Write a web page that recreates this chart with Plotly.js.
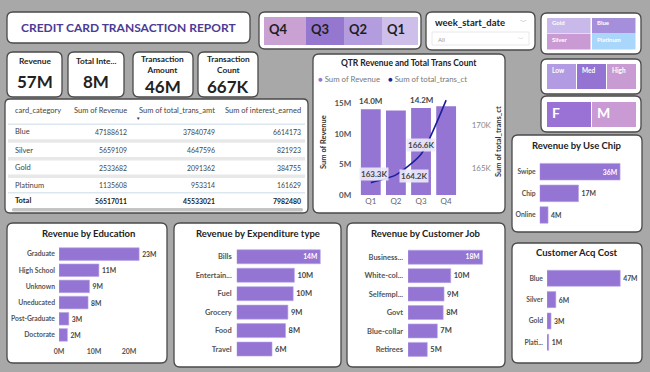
<!DOCTYPE html>
<html><head><meta charset="utf-8">
<script src="https://cdn.plot.ly/plotly-3.0.1.min.js"></script>
<style>html,body{margin:0;padding:0;background:#a8a8a8;}#chart{width:650px;height:372px;}</style>
</head><body><div id="chart"></div>
<script>
// ---------- DATA ----------
const quarters = ['Q1','Q2','Q3','Q4'];
const qtrRevenueM = [14.0, 13.8, 14.2, 14.5];
const qtrTransCtK = [163.3, 164.2, 166.6, 172.9];
const qtrBarLabelIdx = [0, 2];
const qtrLineLabelIdx = [0, 1, 2];
const revTickVals = [0, 5, 10, 15];
const revTickText = ['0M', '5M', '10M', '15M'];
const ctTickVals = [165, 170];
const ctTickText = ['165K', '170K'];

const eduCats = ['Graduate','High School','Unknown','Uneducated','Post-Graduate','Doctorate'];
const eduRevenueM = [22.9, 11.4, 8.7, 8.3, 2.8, 2.4];
const eduTickVals = [0, 10, 20];
const eduTickText = ['0M', '10M', '20M'];

const expCats = ['Bills','Entertain...','Fuel','Grocery','Food','Travel'];
const expRevenueM = [14.2, 9.8, 9.6, 8.7, 8.3, 6.0];

const jobCats = ['Business...','White-col...','Selfempl...','Govt','Blue-collar','Retirees'];
const jobRevenueM = [17.8, 10.2, 8.6, 8.4, 7.0, 4.6];

const chipCats = ['Swipe','Chip','Online'];
const chipRevenueM = [35.6, 17.2, 3.7];

const acqCats = ['Blue','Silver','Gold','Plati...'];
const acqCostM = [47.2, 5.7, 2.6, 1.1];

const tableHeaders = ['card_category','Sum of Revenue','Sum of total_trans_amt','Sum of interest_earned'];
const cardCategories = ['Blue','Silver','Gold','Platinum'];
const sumRevenue = [47188612, 5659109, 2533682, 1135608];
const sumTransAmt = [37840749, 4647596, 2091362, 953314];
const sumInterest = [6614173, 821923, 384755, 161629];

const kpiLabels = ['Revenue','Total Inte...','Transaction<br>Amount','Transaction<br>Count'];
const kpiValues = ['57M','8M','46M','667K'];

const reportTitle = 'CREDIT CARD TRANSACTION REPORT';
const quarterTiles = ['Q4','Q3','Q2','Q1'];
const cardTiles = ['Gold','Blue','Silver','Platinum'];
const levelTiles = ['Low','Med','High'];
const genderTiles = ['F','M'];

// ---------- HELPERS ----------
const W = 650, H = 372;
const px = x => x / W, py = y => 1 - y / H;
const F = 'Lato, "Open Sans", sans-serif';
const BAR = '#9575d4';
const shapes = [], ann = [];

function rr(x0, y0, x1, y1, r, fill, line, lw) {
  const p = `M${px(x0+r)},${py(y0)} L${px(x1-r)},${py(y0)} Q${px(x1)},${py(y0)} ${px(x1)},${py(y0+r)} ` +
            `L${px(x1)},${py(y1-r)} Q${px(x1)},${py(y1)} ${px(x1-r)},${py(y1)} L${px(x0+r)},${py(y1)} ` +
            `Q${px(x0)},${py(y1)} ${px(x0)},${py(y1-r)} L${px(x0)},${py(y0+r)} Q${px(x0)},${py(y0)} ${px(x0+r)},${py(y0)} Z`;
  shapes.push({type:'path', xref:'paper', yref:'paper', path:p, fillcolor:fill,
               line:{color:line, width:lw}, layer:'below'});
}
function rect(x0, y0, x1, y1, fill, lineColor, lw) {
  shapes.push({type:'rect', xref:'paper', yref:'paper', x0:px(x0), x1:px(x1), y0:py(y1), y1:py(y0),
               fillcolor:fill, line:{color:lineColor || fill, width:lw || 0}, layer:'below'});
}
function T(text, x, y, size, color, o) {
  o = o || {};
  ann.push({xref:'paper', yref:'paper', x:px(x), y:py(y), text:text, showarrow:false,
            xanchor:o.xa || 'center', yanchor:o.ya || 'middle', textangle:o.angle || 0,
            font:{family:F, size:size, color:color, weight:o.bold ? 700 : 400}, align:o.align || 'center'});
}
const PANEL_LINE = '#4a4a4a';

// ---------- PANELS ----------
rr(7, 12, 250, 43, 6, '#ffffff', PANEL_LINE, 1.3);
T(reportTitle, 128.5, 27.5, 12, '#4b3b94', {bold:true});
const kpiBoxes = [[7,52,62,97],[68,52,124,97],[133,52,193,97],[198,52,258,97]];
kpiBoxes.forEach((b, i) => {
  rr(b[0], b[1], b[2], b[3], 6, '#ffffff', PANEL_LINE, 1.3);
  const cx = (b[0] + b[2]) / 2;
  const two = kpiLabels[i].indexOf('<br>') >= 0;
  T(kpiLabels[i], cx, two ? 64 : 61, 8.3, '#252525', {bold:true});
  T(kpiValues[i], cx, two ? 86.5 : 81, 17, '#222222', {bold:true});
});

rr(259, 12, 421, 49, 6, '#ffffff', PANEL_LINE, 1.3);
const qColors = ['#c9a1d2', '#9677cf', '#b39ddf', '#cdbfe9'];
const qX = [[264,306],[306,344],[344,382],[382,418]];
quarterTiles.forEach((q, i) => {
  rect(qX[i][0], 17, qX[i][1], 45, qColors[i]);
  T(q, qX[i][0] + 3, 29, 13, '#1e1e1e', {bold:true, xa:'left'});
});

rr(426, 12, 535, 50, 6, '#ffffff', PANEL_LINE, 1.3);
T('week_start_date', 433, 23, 9.5, '#222', {bold:true, xa:'left'});
T('﹀', 523, 21, 7, '#777');
rect(432, 32, 529, 45, '#ffffff', '#e2e2e2', 0.8);
T('All', 436, 39, 6, '#999', {xa:'left'});
T('﹀', 521, 38, 6, '#999');

rr(541, 13, 641, 54, 6, '#ffffff', PANEL_LINE, 1.3);
const cColors = ['#c8b9ea', '#a58fdb', '#c99ad3', '#a9d6fb'];
const cPos = [[547,18,591,34],[592,18,636,34],[547,34,591,50],[592,34,636,50]];
cardTiles.forEach((c, i) => {
  const p = cPos[i];
  rect(p[0], p[1], p[2] - 0.5, p[3] - 0.5, cColors[i]);
  T(c, p[0] + 3, p[1] + 5, 6, '#ffffff', {bold:true, xa:'left'});
});

rr(541, 59, 641, 94, 6, '#ffffff', PANEL_LINE, 1.3);
const lColors = ['#b39be3', '#9473d3', '#c99bd3'];
const lX = [[547,576],[577,606],[607,636]];
levelTiles.forEach((l, i) => {
  rect(lX[i][0], 64, lX[i][1], 89, lColors[i]);
  T(l, lX[i][0] + 3, 70, 6.5, '#ffffff', {bold:true, xa:'left'});
});

rr(541, 96, 641, 132, 6, '#ffffff', PANEL_LINE, 1.3);
const gColors = ['#9a72d6', '#c99ad4'];
const gX = [[547,591],[592,636]];
genderTiles.forEach((g, i) => {
  rect(gX[i][0], 102, gX[i][1], 127, gColors[i]);
  T(g, gX[i][0] + 3, 113, 14, '#ffffff', {bold:true, xa:'left'});
});

// table panel
rr(5, 99, 308, 213, 5, '#ffffff', PANEL_LINE, 1.3);
const colX = [13, 129, 217, 303];
const colAnchor = ['left', 'right', 'right', 'right'];
tableHeaders.forEach((h, i) => T(h, colX[i], 111, 7.5, '#444', {xa:colAnchor[i]}));
T('▼', 138, 118.5, 4.5, '#333');
rect(8, 123.8, 305, 124.6, '#b7cde0');
const rowY = [131.7, 150, 167.7, 185];
const bandY = [141, 158.7, 176.3];
bandY.forEach(y => rect(8, y - 1.8, 305, y + 1.8, '#e8e8e8'));
rect(8, 192.4, 305, 193.2, '#b7cde0');
cardCategories.forEach((c, r) => {
  const vals = [c, sumRevenue[r], sumTransAmt[r], sumInterest[r]];
  vals.forEach((v, i) => T(String(v), colX[i], rowY[r], i === 0 ? 7.5 : 6.9, '#444', {xa:colAnchor[i]}));
});
const sum = a => a.reduce((s, v) => s + v, 0);
['Total', sum(sumRevenue), sum(sumTransAmt), sum(sumInterest)].forEach((v, i) =>
  T(String(v), colX[i], 200.5, i === 0 ? 7.5 : 6.9, '#222', {xa:colAnchor[i], bold:true}));
rr(12, 208, 303, 211.5, 1.5, '#c4c4c4', '#c4c4c4', 0);

// QTR chart panel
rr(313, 54, 505, 213, 6, '#ffffff', PANEL_LINE, 1.3);
T('QTR Revenue and Total Trans Count', 409, 63.5, 8.5, '#222', {bold:true});
T('<span style="color:#9575d4">●</span> Sum of Revenue', 316, 79, 7.8, '#777', {xa:'left'});
T('<span style="color:#1c1f9c">●</span> Sum of total_trans_ct', 386, 79, 7.8, '#777', {xa:'left'});
T('Sum of Revenue', 323, 142, 7.5, '#333', {bold:true, angle:-90});
T('Sum of total_trans_ct', 498, 142, 7.5, '#333', {bold:true, angle:-90});

rr(7, 223, 167, 363, 6, '#ffffff', PANEL_LINE, 1.3);
T('Revenue by Education', 88, 233.5, 9.5, '#222', {bold:true});
rr(174, 223, 341, 367, 6, '#ffffff', PANEL_LINE, 1.3);
T('Revenue by Expenditure type', 258, 233.5, 9.5, '#222', {bold:true});
rr(347, 223, 505, 367, 6, '#ffffff', PANEL_LINE, 1.3);
T('Revenue by Customer Job', 426, 233.5, 9.5, '#222', {bold:true});
rr(512, 135, 642, 232, 6, '#ffffff', PANEL_LINE, 1.3);
T('Revenue by Use Chip', 576.5, 145, 9.5, '#222', {bold:true});
rr(512, 243, 642, 363, 6, '#ffffff', PANEL_LINE, 1.3);
T('Customer Acq Cost', 576.5, 253, 9.5, '#222', {bold:true});

qtrBarLabelIdx.forEach(i => ann.push({xref:'x', yref:'y', x:quarters[i], y:qtrRevenueM[i],
  text:qtrRevenueM[i].toFixed(1) + 'M', showarrow:false, yanchor:'bottom', yshift:1,
  font:{family:F, size:8, color:'#444', weight:700}}));
const lineShift = [[3, 9], [18, -1], [0, 9]];
qtrLineLabelIdx.forEach((i, k) => ann.push({xref:'x', yref:'y2', x:quarters[i], y:qtrTransCtK[i],
  text:qtrTransCtK[i].toFixed(1) + 'K', showarrow:false, xshift:lineShift[k][0], yshift:lineShift[k][1],
  bgcolor:'rgba(236,232,248,0.92)', borderpad:1,
  font:{family:F, size:8, color:'#444', weight:700}}));

// ---------- TRACES ----------
function hbar(x, y, xa, ya, w, pos, fs) {
  const f = {family:F, size:fs, color:'#444', weight:700};
  return {type:'bar', orientation:'h', x:x, y:y, xaxis:xa, yaxis:ya, width:w,
    marker:{color:BAR, line:{color:'#b9a5e8', width:0.6}},
    texttemplate:'%{x:.0f}M', textposition:pos, insidetextanchor:'end', cliponaxis:false,
    textfont:f, outsidetextfont:f,
    insidetextfont:{family:F, size:fs, color:'#ffffff', weight:700},
    hoverinfo:'skip', showlegend:false};
}
const allOut = n => Array(n).fill('outside');
const firstIn = n => ['inside'].concat(Array(n - 1).fill('outside'));

const traces = [
  {type:'bar', x:quarters, y:qtrRevenueM, xaxis:'x', yaxis:'y', width:0.79,
   marker:{color:BAR}, hoverinfo:'skip', showlegend:false},
  {type:'scatter', mode:'lines', x:quarters, y:qtrTransCtK, xaxis:'x', yaxis:'y2',
   line:{color:'#1c1f9c', width:1.6, shape:'spline', smoothing:0.6}, hoverinfo:'skip', showlegend:false},
  hbar(eduRevenueM, eduCats, 'x2', 'y3', 0.78, allOut(eduCats.length), 6.8),
  hbar(expRevenueM, expCats, 'x3', 'y4', 0.76, firstIn(expCats.length), 7.5),
  hbar(jobRevenueM, jobCats, 'x4', 'y5', 0.76, firstIn(jobCats.length), 7.5),
  hbar(chipRevenueM, chipCats, 'x5', 'y6', 0.77, firstIn(chipCats.length), 6.8),
  hbar(acqCostM, acqCats, 'x6', 'y7', 0.75, allOut(acqCats.length), 6.8)
];

// ---------- AXES ----------
function hx(d0, d1, range, anchor, show) {
  return {domain:[px(d0), px(d1)], range:range, anchor:anchor, showgrid:false, zeroline:false,
    showline:false, ticks:'', showticklabels:!!show, fixedrange:true,
    tickmode:'array', tickvals:eduTickVals, ticktext:eduTickText,
    tickfont:{family:F, size:7, color:'#555', weight:700}, ticklabelstandoff:3};
}
function hy(top, bottom, anchor, standoff, fs) {
  return {domain:[py(bottom), py(top)], anchor:anchor, autorange:'reversed', showgrid:false,
    zeroline:false, showline:false, ticks:'', ticklabelstandoff:standoff, fixedrange:true,
    tickfont:{family:F, size:fs, color:'#555', weight:700}};
}

const layout = {
  width:W, height:H, margin:{l:0, r:0, t:0, b:0},
  paper_bgcolor:'#a8a8a8', plot_bgcolor:'rgba(0,0,0,0)',
  font:{family:F}, showlegend:false, barmode:'group',
  xaxis:{domain:[px(357.3), px(458.7)], anchor:'y', showgrid:false, zeroline:false, showline:false,
         ticks:'', tickfont:{family:F, size:8, color:'#666'}, fixedrange:true},
  yaxis:{domain:[py(195), py(97)], anchor:'x', range:[0,16], tickmode:'array', tickvals:revTickVals, ticktext:revTickText,
         showgrid:false, zeroline:false, showline:false, ticks:'', ticklabelstandoff:5,
         tickfont:{family:F, size:8, color:'#555', weight:700}, fixedrange:true},
  yaxis2:{overlaying:'y', side:'right', anchor:'x', range:[161.86,173.26], tickmode:'array',
          tickvals:ctTickVals, ticktext:ctTickText,
          showgrid:false, zeroline:false, showline:false, ticks:'', ticklabelstandoff:12,
          tickfont:{family:F, size:8, color:'#888'}, fixedrange:true},
  xaxis2:hx(59, 150, [0,26], 'y3', true),
  yaxis3:hy(246, 343, 'x2', 3, 6.8),
  xaxis3:hx(236.7, 325, [0,15], 'y4', false),
  yaxis4:hy(247.5, 358.3, 'x3', 4, 7.5),
  xaxis4:hx(408, 496, [0,21], 'y5', false),
  yaxis5:hy(248, 358.6, 'x4', 4, 7.5),
  xaxis5:hx(539.7, 630, [0,40], 'y6', false),
  yaxis6:hy(160.9, 225.8, 'x5', 3, 6.8),
  xaxis6:hx(547, 637, [0,58], 'y7', false),
  yaxis7:hy(267.6, 353, 'x6', 3, 6.8),
  shapes:shapes, annotations:ann
};

Plotly.newPlot('chart', traces, layout, {staticPlot:true, displayModeBar:false});
</script></body></html>
